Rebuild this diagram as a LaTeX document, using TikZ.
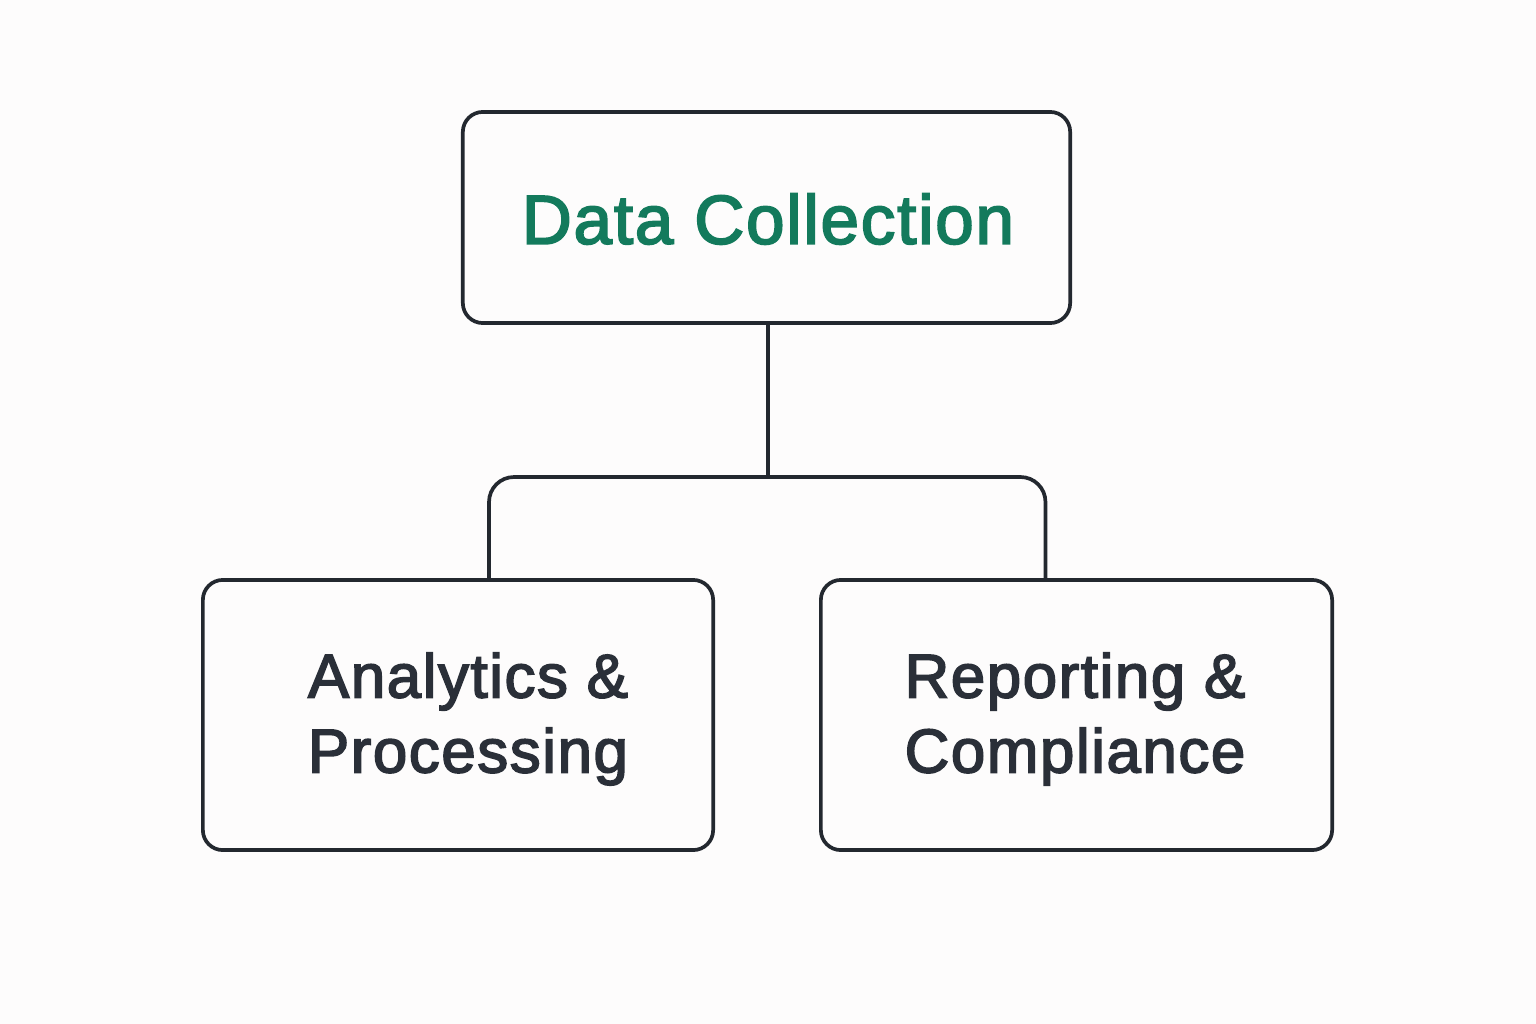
\documentclass[tikz,border=0pt]{standalone}
\usepackage{fontspec}
\setmainfont{Liberation Sans}
\newfontfamily\medfont{Liberation Sans}[FakeBold=2.6,LetterSpace=2.5]
\definecolor{bgc}{HTML}{FDFCFC}
\definecolor{linec}{HTML}{23282F}
\definecolor{greenc}{HTML}{137A5C}
\definecolor{textc}{HTML}{2A2F38}
\begin{document}
\begin{tikzpicture}[x=0.01cm,y=-0.01cm,
  box/.style={draw=linec,line width=1.05pt,rounded corners=0.2cm,fill=bgc,inner sep=0pt},
  conn/.style={draw=linec,line width=1.05pt},
  title/.style={font=\medfont\fontsize{19.7pt}{23pt}\selectfont,text=greenc},
  sub/.style={font=\medfont\fontsize{17.6pt}{21.3pt}\selectfont,text=textc,align=center}]
\fill[bgc] (0,0) rectangle (1536,1024);
\useasboundingbox (0,0) rectangle (1536,1024);
\node[box,minimum width=6.07cm,minimum height=2.11cm] (top) at (766.5,217.5) {};
\node[title] (toptext) at (768,219) {Data Collection};
\node[box,minimum width=5.10cm,minimum height=2.70cm] (left) at (458,715) {};
\node[sub] (lefttext) at (468,719) {Analytics \&\\Processing};
\node[box,minimum width=5.11cm,minimum height=2.70cm] (right) at (1076.5,715) {};
\node[sub] (righttext) at (1075,719) {Reporting \&\\Compliance};
\coordinate (bar) at (768,477);
\draw[conn] (bar |- top.south) -- (bar);
\draw[conn,rounded corners=0.25cm] ([xshift=0.31cm]left.north) |- (bar) -| ([xshift=-0.31cm]right.north);
\end{tikzpicture}
\end{document}
